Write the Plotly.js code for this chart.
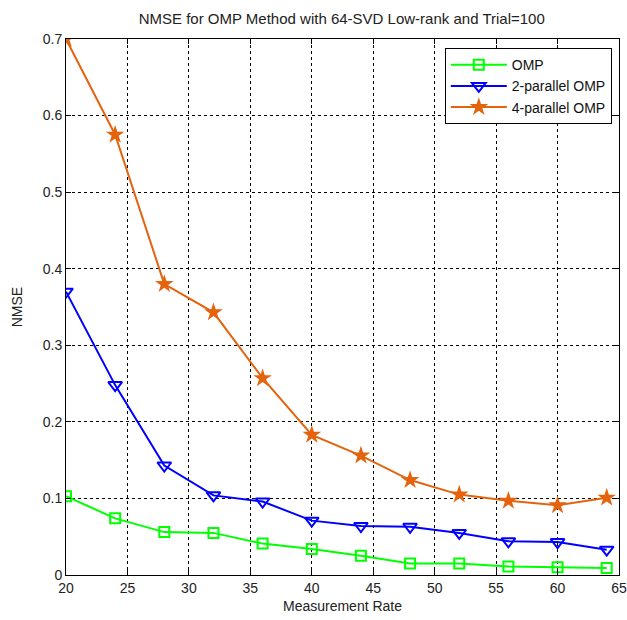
<!DOCTYPE html>
<html><head><meta charset="utf-8">
<script src="https://cdn.plot.ly/plotly-3.0.1.min.js"></script>
<style>body{margin:0;background:#fff}#c{width:627px;height:620px}</style>
</head><body><div id="c"></div>
<script>
const rates = [20, 24, 28, 32, 36, 40, 44, 48, 52, 56, 60, 64];
const omp = [0.103, 0.074, 0.056, 0.055, 0.041, 0.034, 0.025, 0.015, 0.015, 0.011, 0.010, 0.009];
const omp2 = [0.370, 0.248, 0.143, 0.104, 0.096, 0.071, 0.064, 0.063, 0.055, 0.044, 0.043, 0.033];
const omp4 = [0.700, 0.575, 0.380, 0.343, 0.257, 0.183, 0.156, 0.124, 0.105, 0.097, 0.091, 0.101];
const names = ['OMP', '2-parallel OMP', '4-parallel OMP'];
const xTicks = [20, 25, 30, 35, 40, 45, 50, 55, 60, 65];
const yTicks = [0, 0.1, 0.2, 0.3, 0.4, 0.5, 0.6, 0.7];
const yTickText = ['0', '0.1', '0.2', '0.3', '0.4', '0.5', '0.6', '0.7'];

const traces = [
  {x: rates, y: omp, name: names[0], mode: 'lines+markers',
   line: {color: '#00ff00', width: 2},
   marker: {symbol: 'square-open', size: 10, color: '#00ff00', line: {width: 2}}},
  {x: rates, y: omp2, name: names[1], mode: 'lines+markers',
   line: {color: '#0000ff', width: 2},
   marker: {symbol: 'triangle-down-open', size: 12, color: '#0000ff', line: {width: 2}}},
  {x: rates, y: omp4, name: names[2], mode: 'lines+markers',
   line: {color: '#e4630c', width: 2},
   marker: {symbol: 'star', size: 14, color: '#e4630c', line: {width: 0}}}
];

const fam = 'Liberation Sans, Arial, sans-serif';
const tickFont = {family: fam, size: 14, color: '#222'};
const titleFont = {family: fam, size: 14, color: '#222'};
const layout = {
  width: 627, height: 620,
  margin: {l: 66, r: 8, t: 39, b: 45},
  paper_bgcolor: '#fff', plot_bgcolor: '#fff',
  font: tickFont,
  showlegend: true,
  title: {text: 'NMSE for OMP Method with 64-SVD Low-rank and Trial=100',
          font: {family: fam, size: 15, color: '#222'},
          x: 0.545, xanchor: 'center', y: 0.97, yanchor: 'middle'},
  xaxis: {range: [20, 65], tickvals: xTicks, ticktext: xTicks.map(String),
          showline: true, linecolor: '#000', linewidth: 1, mirror: 'ticks',
          ticks: 'inside', ticklen: 5, tickcolor: '#000',
          showgrid: true, gridcolor: '#000', griddash: '3px,3px', gridwidth: 1,
          zeroline: false, tickfont: tickFont,
          title: {text: 'Measurement Rate', font: titleFont, standoff: 6}},
  yaxis: {range: [0, 0.7], tickvals: yTicks, ticktext: yTickText,
          showline: true, linecolor: '#000', linewidth: 1, mirror: 'ticks',
          ticks: 'inside', ticklen: 5, tickcolor: '#000',
          showgrid: true, gridcolor: '#000', griddash: '3px,3px', gridwidth: 1,
          zeroline: false, tickfont: tickFont,
          title: {text: 'NMSE', font: titleFont, standoff: 16}},
  legend: {x: 0.987, xanchor: 'right', y: 0.983, yanchor: 'top',
           bgcolor: '#fff', bordercolor: '#000', borderwidth: 1,
           font: {family: fam, size: 14, color: '#111'},
           tracegroupgap: 0, itemwidth: 56}
};
Plotly.newPlot('c', traces, layout, {displayModeBar: false, staticPlot: true});
</script></body></html>
